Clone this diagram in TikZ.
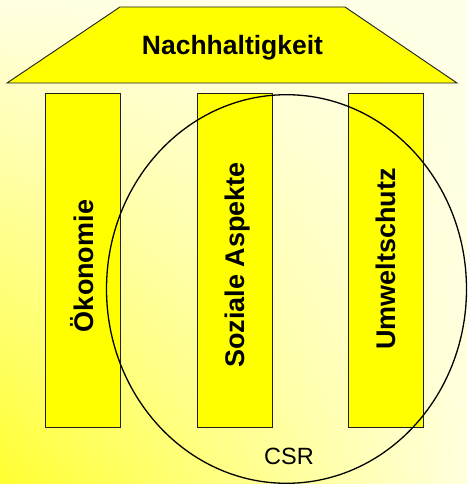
\documentclass[tikz,border=0pt]{standalone}
\usepackage{fontspec}
\setmainfont{Liberation Sans}
\usetikzlibrary{shadings}
\definecolor{bgul}{RGB}{255,255,226}
\definecolor{bgur}{RGB}{255,255,232}
\definecolor{bgll}{RGB}{255,255,48}
\definecolor{bglr}{RGB}{255,255,220}
\definecolor{pillaryellow}{RGB}{255,255,0}
\definecolor{edgegray}{RGB}{30,30,30}
\begin{document}
\begin{tikzpicture}[x=1pt,y=-1pt,
  pillarbox/.style={draw=edgegray,line width=0.9pt,fill=pillaryellow,minimum width=75pt,minimum height=334pt,inner sep=0pt},
  pillartext/.style={rotate=90,anchor=base,font=\fontsize{27}{30}\selectfont\bfseries,inner sep=0pt},
  rooftext/.style={anchor=base,font=\fontsize{26.5}{30}\selectfont\bfseries,inner sep=0pt},
  csrtext/.style={anchor=base,font=\fontsize{23.5}{27}\selectfont,inner sep=0pt}]
\useasboundingbox (0,0) rectangle (467,484);
\shade[upper left=bgul,upper right=bgur,lower left=bgll,lower right=bglr]
  (0,0) rectangle (467,484);
% roof
\coordinate (rtl) at (120,7);
\coordinate (rtr) at (345,7);
\coordinate (rbr) at (457,83);
\coordinate (rbl) at (7,83);
\draw[draw=edgegray,line width=0.9pt,fill=pillaryellow] (rtl) -- (rtr) -- (rbr) -- (rbl) -- cycle;
\node[rooftext] (roof) at (232.5,55) {Nachhaltigkeit};
% pillars
\node[pillarbox] (p1) at (82.5,260.5) {};
\node[pillarbox] (p2) at (235.2,260) {};
\node[pillarbox] (p3) at (386.2,260) {};
\node[pillartext] (t1) at (93,266) {Ökonomie};
\node[pillartext] (t2) at (244,265) {Soziale Aspekte};
\node[pillartext] (t3) at (395,259) {Umweltschutz};
% CSR circle
\draw[black,line width=1.3pt] (286.5,289) ellipse [x radius=180,y radius=194.3];
\node[csrtext] (csr) at (289,464) {CSR};
\end{tikzpicture}
\end{document}
